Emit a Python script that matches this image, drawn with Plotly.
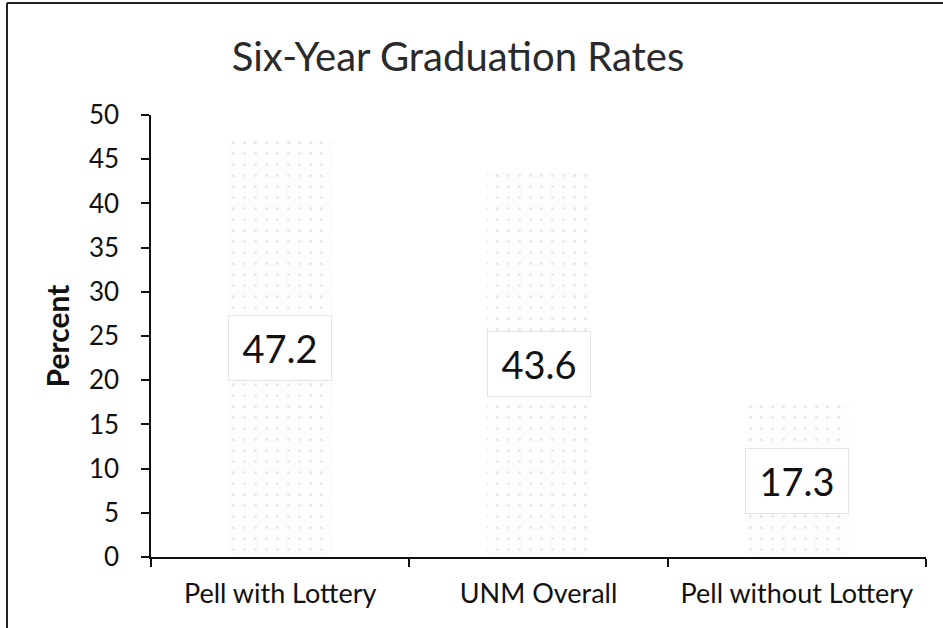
import plotly.graph_objects as go

# Six-year graduation rates by student group
categories = ["Pell with Lottery", "UNM Overall", "Pell without Lottery"]
rates = [47.2, 43.6, 17.3]
y_ticks = [0, 5, 10, 15, 20, 25, 30, 35, 40, 45, 50]

W, H = 943, 628
ML, MR, MT, MB = 151, 17, 115, 71
FONT = "Lato, Calibri, sans-serif"

fig = go.Figure(
    go.Bar(
        x=categories,
        y=rates,
        width=0.4,
        marker=dict(
            color="#fbfbfb",
            line=dict(width=0),
            pattern=dict(shape=".", fgcolor="#cfcfcf", bgcolor="#fdfdfd",
                         size=11, solidity=0.06),
        ),
        hoverinfo="x+y",
    )
)

# value labels sitting in white boxes at the middle of each bar
for cat, val in zip(categories, rates):
    fig.add_annotation(
        x=cat, y=val / 2, text=f"{val}", showarrow=False,
        font=dict(family=FONT, size=38, color="#111111"),
        bgcolor="white", bordercolor="#e4e4e4", borderwidth=1,
        borderpad=9, width=84,
    )

pw = W - ML - MR
ph = H - MT - MB

def px_x(p):
    return (p - ML) / pw

def px_y(p):
    return (H - MB - p) / ph

# outer chart frame (left and top edges)
frame = dict(color="#222222", width=2)
fig.add_shape(type="line", xref="paper", yref="paper",
              x0=px_x(7), x1=px_x(7), y0=px_y(3), y1=px_y(H), line=frame)
fig.add_shape(type="line", xref="paper", yref="paper",
              x0=px_x(7), x1=px_x(W), y0=px_y(3), y1=px_y(3), line=frame)

fig.update_layout(
    width=W, height=H,
    margin=dict(l=ML, r=MR, t=MT, b=MB),
    paper_bgcolor="white", plot_bgcolor="white",
    showlegend=False,
    font=dict(family=FONT, color="#111111"),
    title=dict(text="Six-Year Graduation Rates", x=458 / W, xanchor="center",
               y=1 - 57 / H, yanchor="middle", xref="container", yref="container",
               font=dict(family=FONT, size=40, color="#2a2a2a")),
    xaxis=dict(
        type="category", range=[-0.5, 2.5], tickson="boundaries",
        ticks="outside", ticklen=8, tickwidth=1.5, tickcolor="#111111",
        showline=True, linecolor="#111111", linewidth=1.5,
        showgrid=False, zeroline=False, ticklabelstandoff=12,
        tickfont=dict(family=FONT, size=27, color="#111111"),
    ),
    yaxis=dict(
        range=[0, 50], tickvals=y_ticks, ticktext=[str(v) for v in y_ticks],
        ticks="outside", ticklen=8, tickwidth=1.5, tickcolor="#111111",
        showline=True, linecolor="#111111", linewidth=1.5,
        showgrid=False, zeroline=False, ticklabelstandoff=17,
        tickfont=dict(family=FONT, size=26, color="#111111"),
        title=dict(text="<b>Percent</b>", standoff=10,
                   font=dict(family=FONT, size=30, color="#111111")),
    ),
)

fig.write_html("out.html")
